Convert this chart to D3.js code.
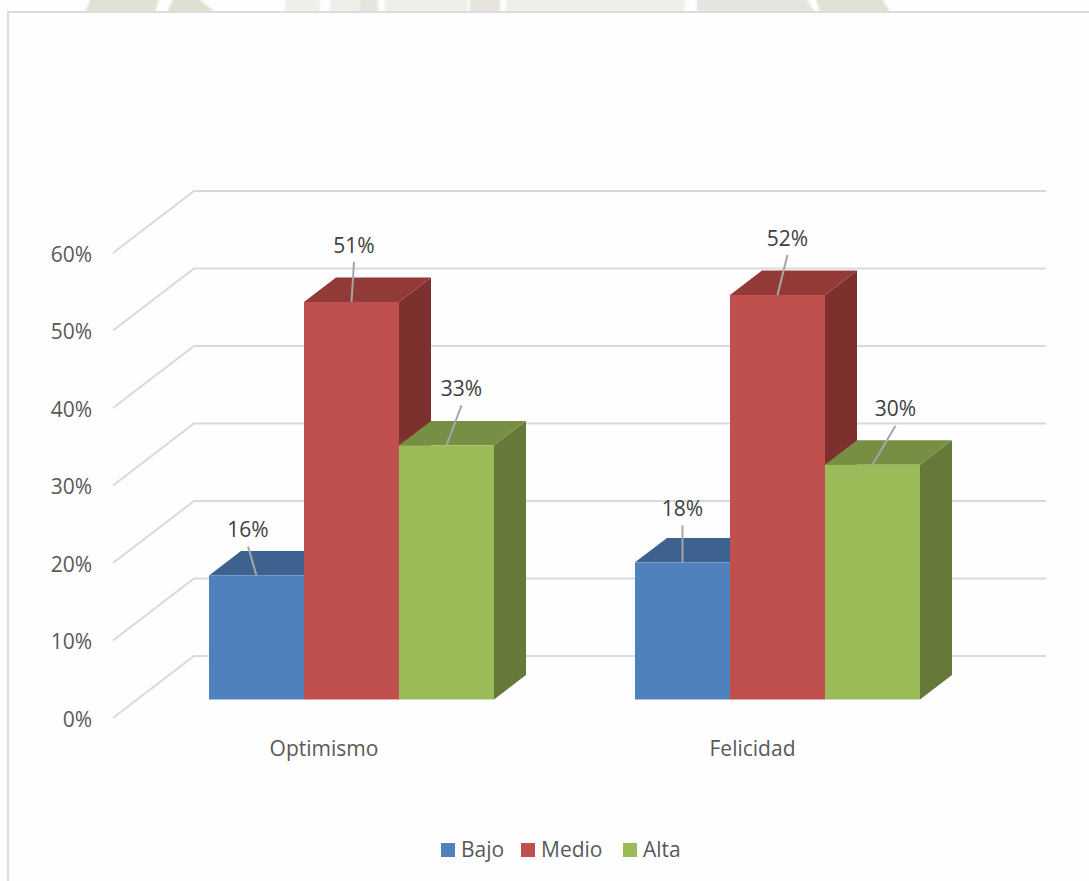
<!DOCTYPE html>
<html><head><meta charset="utf-8">
<script src="https://cdn.jsdelivr.net/npm/d3@7"></script>
<style>html,body{margin:0;padding:0;background:#fff}svg{display:block}text{font-family:"Open Sans","Noto Sans",sans-serif}</style>
</head><body><div id="c"></div>
<script>
const categories = ["Optimismo", "Felicidad"];
const seriesNames = ["Bajo", "Medio", "Alta"];
const bajo = [16.0, 17.7];
const medio = [51.3, 52.2];
const alta = [32.8, 30.3];
const tickValues = [0, 10, 20, 30, 40, 50, 60];
const seriesColors = [
  {front:"#4f81bd", top:"#3d6290", side:"#2f4c70"},
  {front:"#c0504d", top:"#923a38", side:"#7d302e"},
  {front:"#9bbb59", top:"#778f44", side:"#66793a"}
];
// leader-line top offset from the bar's front centre / top edge (layout only)
const leaderOffsets = [
  [[-8.5,-29],[2.5,-40],[15,-40]],
  [[0,-37],[10,-40],[23,-39]]
];
// watermark remnants: top-left, top-right, bottom-left, bottom-right x, colour
const wmBands = [
  [92,160,85,155,"#e0e1d5"],[175,195,167,215,"#dfe0d4"],[285,320,285,320,"#efeee9"],[330,360,330,360,"#efeee9"],
  [360,378,360,378,"#e5e3dc"],[385,468,385,468,"#efeee9"],[470,500,470,500,"#e5e3dc"],[506,685,506,685,"#efeee9"],
  [697,805,697,815,"#e6e4de"],[815,880,820,890,"#e0e1d5"]
];
const W=1089,H=881;
const svg=d3.select("#c").append("svg").attr("width",W).attr("height",H);
svg.append("rect").attr("width",W).attr("height",H).attr("fill","#fefefe");

svg.append("defs").append("filter").attr("id","soft").append("feGaussianBlur").attr("stdDeviation",1);
svg.append("g").attr("filter","url(#soft)").selectAll("path").data(wmBands).join("path")
  .attr("fill",d=>d[4]).attr("d",d=>`M${d[0]},-4L${d[1]},-4L${d[3]},12L${d[2]},12Z`);
svg.append("rect").attr("x",0).attr("y",12).attr("width",W).attr("height",H-12).attr("fill","#fefefe");
// frame
svg.append("path").attr("d",`M8,${H}V12H${W}`).attr("fill","none").attr("stroke","#dcdcdc").attr("stroke-width",2);

const depthW={x:81,y:-62}, depthB={x:32,y:-24.4};
const yF=d3.scaleLinear().domain([0,60]).range([699.5,234.5]);   // bar front plane
const yA=d3.scaleLinear().domain([0,60]).range([718,253]);       // axis plane
const x0=d3.scaleBand().domain(categories).range([138.5,990.5]);
const x1=d3.scaleBand().domain(seriesNames).range([70.5,355.5]);
const xLabel=d3.scalePoint().domain(categories).range([324,752.5]);
const fmt=v=>d3.format(".0f")(v)+"%";

// gridlines: side wall + back wall
const grid=svg.append("g").attr("fill","none").attr("stroke","#d9d9d9").attr("stroke-width",2);
grid.selectAll("path").data(tickValues).join("path")
  .attr("d",d=>{const xa=113,ya=yA(d);return `M${xa},${ya}L${xa+depthW.x},${ya+depthW.y}H1046`;});
svg.append("g").selectAll("text").data(tickValues).join("text")
  .attr("x",92).attr("y",d=>yA(d)+3).attr("text-anchor","end").attr("dominant-baseline","middle")
  .attr("font-size",21).attr("fill","#595959").text(d=>d+"%");

const allValues=[bajo,medio,alta];
const bars=svg.append("g");
categories.forEach((cat,ci)=>{
  seriesNames.forEach((s,si)=>{
    const v=allValues[si][ci], c=seriesColors[si];
    const x=x0(cat)+x1(s), w=x1.bandwidth(), yt=yF(v), yb=yF(0), dx=depthB.x, dy=depthB.y;
    const g=bars.append("g");
    g.append("path").attr("fill",c.side).attr("d",`M${x+w},${yt}l${dx},${dy}V${yb+dy}l${-dx},${-dy}Z`);
    g.append("path").attr("fill",c.top).attr("d",`M${x},${yt}l${dx},${dy}h${w}l${-dx},${-dy}Z`);
    g.append("rect").attr("x",x).attr("y",yt).attr("width",w).attr("height",yb-yt).attr("fill",c.front);
  });
});
// labels and leader lines on top
const lab=svg.append("g");
categories.forEach((cat,ci)=>{
  seriesNames.forEach((s,si)=>{
    const v=allValues[si][ci], o=leaderOffsets[ci][si];
    const cx=x0(cat)+x1(s)+x1.bandwidth()/2, yt=yF(v);
    lab.append("line").attr("x1",cx).attr("y1",yt).attr("x2",cx+o[0]).attr("y2",yt+o[1])
      .attr("stroke","#a6a6a6").attr("stroke-width",2);
    lab.append("text").attr("x",cx+o[0]).attr("y",yt+o[1]-15)
      .attr("text-anchor","middle").attr("dominant-baseline","middle")
      .attr("font-size",21).attr("fill","#404040").text(fmt(v));
  });
  lab.append("text").attr("x",xLabel(cat)).attr("y",750.5)
    .attr("text-anchor","middle").attr("dominant-baseline","middle")
    .attr("font-size",21).attr("fill","#595959").text(cat);
});
// legend
const legendX=[441,521,623];
const leg=svg.append("g");
seriesNames.forEach((s,i)=>{
  leg.append("rect").attr("x",legendX[i]).attr("y",843).attr("width",14).attr("height",14).attr("fill",seriesColors[i].front);
  leg.append("text").attr("x",legendX[i]+20).attr("y",851.5).attr("dominant-baseline","middle")
    .attr("font-size",21).attr("fill","#595959").text(s);
});
</script></body></html>
